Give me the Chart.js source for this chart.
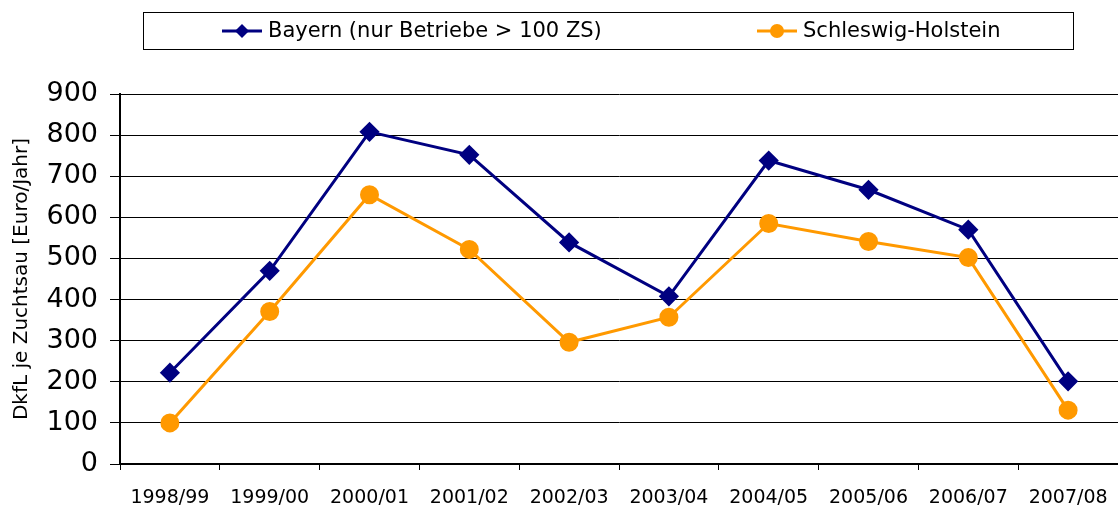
<!DOCTYPE html>
<html>
<head>
<meta charset="utf-8">
<script src="https://cdn.jsdelivr.net/npm/chart.js@4"></script>
<style>
  html, body { margin: 0; padding: 0; background: #fff; }
  #wrap { width: 1118px; height: 508px; }
</style>
</head>
<body>
<div id="wrap"><canvas id="dkfl-chart" width="1118" height="508"></canvas></div>
<script>
const seasons = ['1998/99', '1999/00', '2000/01', '2001/02', '2002/03', '2003/04', '2004/05', '2005/06', '2006/07', '2007/08'];
const bayern = [222, 470, 808, 752, 539, 408, 738, 667, 570, 201];
const schleswigHolstein = [100, 371, 655, 522, 296, 357, 585, 541, 502, 131];
const seriesNames = ['Bayern (nur Betriebe > 100 ZS)', 'Schleswig-Holstein'];
const yTicks = [0, 100, 200, 300, 400, 500, 600, 700, 800, 900];

const FONT = '"DejaVu Sans", sans-serif';

// Legend drawn inside a framed box, line + marker like the original
const boxLegend = {
    id: 'boxLegend',
    afterDraw(chart) {
        const ctx = chart.ctx;
        ctx.save();
        ctx.strokeStyle = '#000';
        ctx.lineWidth = 1;
        ctx.strokeRect(143.5, 12.5, 930, 37);
        ctx.font = '21px ' + FONT;
        ctx.textBaseline = 'middle';
        ctx.fillStyle = '#000';
        const xs = [222, 757];
        chart.data.datasets.forEach((ds, i) => {
            const x = xs[i], y = 31;
            ctx.strokeStyle = ds.borderColor;
            ctx.lineWidth = 3;
            ctx.beginPath();
            ctx.moveTo(x, y);
            ctx.lineTo(x + 40, y);
            ctx.stroke();
            ctx.fillStyle = ds.backgroundColor;
            ctx.beginPath();
            if (ds.pointStyle === 'rectRot') {
                ctx.moveTo(x + 20, y - 7);
                ctx.lineTo(x + 27, y);
                ctx.lineTo(x + 20, y + 7);
                ctx.lineTo(x + 13, y);
                ctx.closePath();
            } else {
                ctx.arc(x + 20, y, 7, 0, Math.PI * 2);
            }
            ctx.fill();
            ctx.fillStyle = '#000';
            ctx.fillText(ds.label, x + 46, y + 1);
        });
        ctx.restore();
    }
};

const ctx = document.getElementById('dkfl-chart').getContext('2d');
const chart = new Chart(ctx, {
    type: 'line',
    data: {
        labels: seasons,
        datasets: [{
            label: seriesNames[0],
            data: bayern,
            borderColor: '#000080',
            backgroundColor: '#000080',
            borderWidth: 3,
            pointStyle: 'rectRot',
            pointRadius: 8,
            pointHoverRadius: 8,
            tension: 0
        }, {
            label: seriesNames[1],
            data: schleswigHolstein,
            borderColor: '#FF9900',
            backgroundColor: '#FF9900',
            borderWidth: 3,
            pointStyle: 'circle',
            pointRadius: 8,
            pointHoverRadius: 8,
            tension: 0
        }]
    },
    options: {
        responsive: false,
        animation: false,
        layout: { autoPadding: false, padding: { top: 94, right: 0, left: 0, bottom: 0 } },
        plugins: {
            legend: { display: false },
            tooltip: { enabled: false }
        },
        scales: {
            x: {
                offset: true,
                grid: {
                    offset: true,
                    drawOnChartArea: false,
                    drawTicks: true,
                    tickLength: 6,
                    color: '#000'
                },
                border: { color: '#000', width: 1.5 },
                ticks: {
                    color: '#000',
                    font: { family: FONT, size: 19 },
                    padding: 17,
                    maxRotation: 0,
                    autoSkip: false
                },
                afterFit(scale) {
                    scale.height = 44;
                    scale.paddingLeft = 0;
                    scale.paddingRight = 0;
                }
            },
            y: {
                min: 0,
                max: 900,
                afterBuildTicks(scale) { scale.ticks = yTicks.map(v => ({ value: v })); },
                grid: {
                    color: '#000',
                    lineWidth: 1,
                    tickLength: 10
                },
                border: { color: '#000', width: 2 },
                ticks: {
                    color: '#000',
                    font: { family: FONT, size: 27 },
                    padding: 12
                },
                title: {
                    display: true,
                    text: 'DkfL je Zuchtsau [Euro/Jahr]',
                    color: '#000',
                    font: { family: FONT, size: 20 },
                    padding: { top: 10, bottom: 4 }
                },
                afterFit(scale) { scale.width = 120; }
            }
        }
    },
    plugins: [boxLegend]
});
</script>
</body>
</html>
